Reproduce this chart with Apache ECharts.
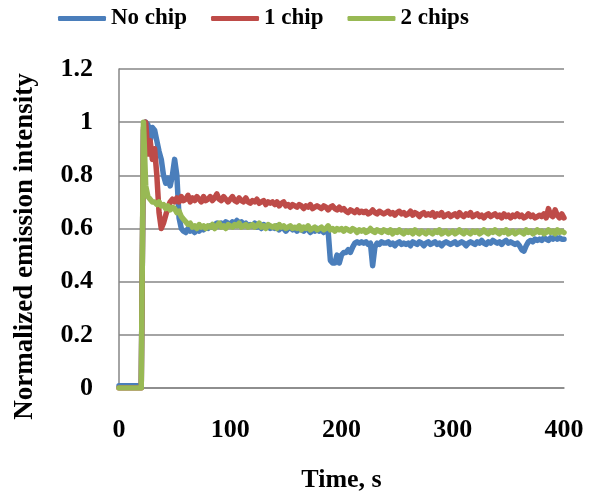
<!DOCTYPE html>
<html>
<head>
<meta charset="utf-8">
<script src="https://cdn.jsdelivr.net/npm/echarts@6/dist/echarts.min.js"></script>
<style>
html,body{margin:0;padding:0;background:#fff;}
#chart{width:594px;height:498px;}
</style>
</head>
<body>
<div id="chart"></div>
<script>
// Time, s (sampled every 2 s)
const times = [
0,2,4,6,8,10,12,14,16,18,
20,22,24,26,28,30,32,34,36,38,
40,42,44,46,48,50,52,54,56,58,
60,62,64,66,68,70,72,74,76,78,
80,82,84,86,88,90,92,94,96,98,
100,102,104,106,108,110,112,114,116,118,
120,122,124,126,128,130,132,134,136,138,
140,142,144,146,148,150,152,154,156,158,
160,162,164,166,168,170,172,174,176,178,
180,182,184,186,188,190,192,194,196,198,
200,202,204,206,208,210,212,214,216,218,
220,222,224,226,228,230,232,234,236,238,
240,242,244,246,248,250,252,254,256,258,
260,262,264,266,268,270,272,274,276,278,
280,282,284,286,288,290,292,294,296,298,
300,302,304,306,308,310,312,314,316,318,
320,322,324,326,328,330,332,334,336,338,
340,342,344,346,348,350,352,354,356,358,
360,362,364,366,368,370,372,374,376,378,
380,382,384,386,388,390,392,394,396,398,
400];

const noChip = [
0.008,0.008,0.008,0.008,0.008,0.008,0.008,0.008,0.008,0.008,
0.008,0.97,1.0,0.99,0.93,0.98,0.97,0.93,0.89,0.86,
0.80,0.77,0.79,0.76,0.80,0.86,0.80,0.64,0.60,0.59,
0.585,0.60,0.59,0.595,0.585,0.60,0.59,0.60,0.595,0.605,
0.60,0.61,0.605,0.615,0.62,0.61,0.62,0.615,0.625,0.62,
0.615,0.625,0.62,0.63,0.62,0.625,0.615,0.62,0.61,0.615,
0.61,0.62,0.605,0.61,0.60,0.615,0.605,0.61,0.60,0.605,
0.60,0.61,0.595,0.605,0.60,0.59,0.60,0.605,0.595,0.60,
0.59,0.60,0.595,0.59,0.60,0.595,0.585,0.595,0.59,0.60,
0.59,0.595,0.585,0.595,0.59,0.48,0.47,0.47,0.50,0.47,
0.50,0.51,0.51,0.52,0.51,0.53,0.545,0.55,0.545,0.55,
0.545,0.55,0.54,0.545,0.46,0.53,0.545,0.54,0.55,0.545,
0.545,0.55,0.54,0.545,0.535,0.545,0.55,0.54,0.545,0.54,
0.545,0.535,0.55,0.545,0.54,0.55,0.545,0.535,0.545,0.55,
0.54,0.545,0.55,0.54,0.545,0.535,0.545,0.55,0.545,0.54,
0.545,0.55,0.54,0.545,0.55,0.545,0.535,0.545,0.55,0.545,
0.54,0.55,0.545,0.555,0.545,0.54,0.55,0.545,0.555,0.55,
0.545,0.55,0.54,0.55,0.555,0.545,0.55,0.545,0.54,0.545,
0.535,0.52,0.515,0.535,0.55,0.555,0.55,0.56,0.555,0.56,
0.555,0.565,0.56,0.555,0.565,0.56,0.57,0.56,0.565,0.56,
0.56];

const oneChip = [
0,0,0,0,0,0,0,0,0,0,
0,0.98,1.0,0.88,0.93,0.86,0.90,0.80,0.66,0.60,
0.62,0.65,0.68,0.70,0.71,0.70,0.715,0.70,0.72,0.705,
0.71,0.725,0.70,0.715,0.705,0.72,0.71,0.70,0.72,0.705,
0.71,0.72,0.705,0.715,0.73,0.71,0.705,0.72,0.71,0.70,
0.71,0.72,0.705,0.70,0.715,0.705,0.70,0.715,0.70,0.695,
0.705,0.70,0.71,0.695,0.70,0.705,0.69,0.70,0.695,0.70,
0.69,0.70,0.685,0.695,0.70,0.685,0.69,0.68,0.69,0.685,
0.68,0.69,0.685,0.675,0.685,0.68,0.69,0.675,0.68,0.685,
0.68,0.675,0.685,0.68,0.67,0.68,0.685,0.675,0.67,0.68,
0.67,0.675,0.665,0.66,0.67,0.665,0.66,0.67,0.66,0.665,
0.66,0.665,0.655,0.66,0.67,0.66,0.655,0.665,0.66,0.655,
0.66,0.665,0.655,0.66,0.65,0.66,0.665,0.655,0.66,0.65,
0.655,0.665,0.65,0.66,0.655,0.645,0.655,0.66,0.65,0.655,
0.65,0.66,0.645,0.655,0.65,0.66,0.645,0.65,0.655,0.645,
0.65,0.655,0.645,0.66,0.65,0.645,0.655,0.65,0.66,0.645,
0.65,0.655,0.645,0.65,0.64,0.65,0.655,0.645,0.65,0.655,
0.645,0.65,0.64,0.655,0.645,0.65,0.64,0.65,0.645,0.655,
0.645,0.65,0.64,0.645,0.655,0.645,0.65,0.64,0.645,0.65,
0.645,0.655,0.64,0.675,0.65,0.645,0.67,0.65,0.64,0.655,
0.64];

const twoChips = [
0,0,0,0,0,0,0,0,0,0,
0,1.0,0.76,0.72,0.71,0.70,0.70,0.69,0.70,0.685,
0.69,0.675,0.685,0.67,0.68,0.675,0.66,0.665,0.645,0.635,
0.625,0.615,0.62,0.605,0.61,0.60,0.615,0.605,0.61,0.60,
0.61,0.605,0.615,0.60,0.61,0.62,0.605,0.61,0.60,0.615,
0.61,0.605,0.615,0.61,0.62,0.605,0.61,0.615,0.605,0.61,
0.615,0.605,0.61,0.62,0.605,0.61,0.60,0.615,0.61,0.605,
0.61,0.60,0.615,0.605,0.61,0.60,0.605,0.61,0.60,0.605,
0.60,0.61,0.595,0.605,0.60,0.61,0.595,0.60,0.605,0.595,
0.60,0.605,0.595,0.60,0.61,0.595,0.60,0.59,0.60,0.595,
0.60,0.59,0.60,0.595,0.59,0.60,0.595,0.585,0.595,0.59,
0.595,0.585,0.59,0.60,0.59,0.585,0.595,0.59,0.585,0.595,
0.59,0.585,0.595,0.58,0.59,0.585,0.595,0.585,0.58,0.59,
0.585,0.59,0.58,0.595,0.585,0.58,0.59,0.585,0.58,0.59,
0.585,0.58,0.59,0.585,0.595,0.58,0.585,0.59,0.58,0.585,
0.59,0.58,0.585,0.595,0.585,0.58,0.59,0.585,0.58,0.59,
0.585,0.59,0.58,0.585,0.595,0.585,0.58,0.59,0.585,0.595,
0.585,0.58,0.59,0.585,0.595,0.58,0.585,0.59,0.58,0.585,
0.59,0.585,0.58,0.595,0.585,0.59,0.58,0.585,0.595,0.585,
0.59,0.58,0.585,0.595,0.585,0.59,0.58,0.595,0.585,0.59,
0.585];

const seriesNames = ['No chip', '1 chip', '2 chips'];
const seriesColors = ['#4A7EBB', '#BE4B48', '#98B954'];
const xTickLabels = ['0', '100', '200', '300', '400'];
const yTickLabels = ['0', '0.2', '0.4', '0.6', '0.8', '1', '1.2'];

const font = '"Liberation Serif", "Times New Roman", serif';
const pair = arr => arr.map((v, i) => [times[i], v]);
const allValues = [noChip, oneChip, twoChips];

const chart = echarts.init(document.getElementById('chart'), null, {renderer: 'canvas'});
chart.setOption({
  animation: false,
  backgroundColor: '#ffffff',
  color: seriesColors,
  legend: {
    left: 58, top: 7, padding: 0,
    itemWidth: 48, itemHeight: 5, itemGap: 24,
    icon: 'roundRect',
    textStyle: {fontFamily: font, fontWeight: 'bold', fontSize: 23, color: '#000'},
    data: seriesNames
  },
  grid: {left: 119, right: 30, top: 69, bottom: 106, containLabel: false},
  xAxis: {
    type: 'value', min: 0, max: 400, interval: 100,
    name: 'Time, s', nameLocation: 'middle', nameGap: 79,
    nameTextStyle: {fontFamily: font, fontWeight: 'bold', fontSize: 26, color: '#000'},
    axisLine: {show: true, lineStyle: {color: '#868686', width: 1.5}},
    axisTick: {show: false},
    splitLine: {show: false},
    axisLabel: {margin: 29, fontFamily: font, fontWeight: 'bold', fontSize: 26, color: '#000',
      formatter: v => xTickLabels[Math.round(v / 100)]}
  },
  yAxis: {
    type: 'value', min: 0, max: 1.2, interval: 0.2,
    name: 'Normalized emission intensity', nameLocation: 'middle', nameGap: 80,
    nameTextStyle: {fontFamily: font, fontWeight: 'bold', fontSize: 27, color: '#000',
      padding: [0, 36, 0, 0]},
    axisLine: {show: true, lineStyle: {color: '#868686', width: 1.5}},
    axisTick: {show: false},
    splitLine: {show: true, lineStyle: {color: '#868686', width: 1.5}},
    axisLabel: {margin: 26, fontFamily: font, fontWeight: 'bold', fontSize: 26, color: '#000',
      formatter: v => yTickLabels[Math.round(v / 0.2)]}
  },
  series: seriesNames.map((n, k) => ({
    name: n, type: 'line', data: pair(allValues[k]),
    showSymbol: false, symbol: 'none',
    lineStyle: {width: 5.5, color: seriesColors[k], cap: 'round', join: 'round'},
    itemStyle: {color: seriesColors[k]}
  }))
});
</script>
</body>
</html>
